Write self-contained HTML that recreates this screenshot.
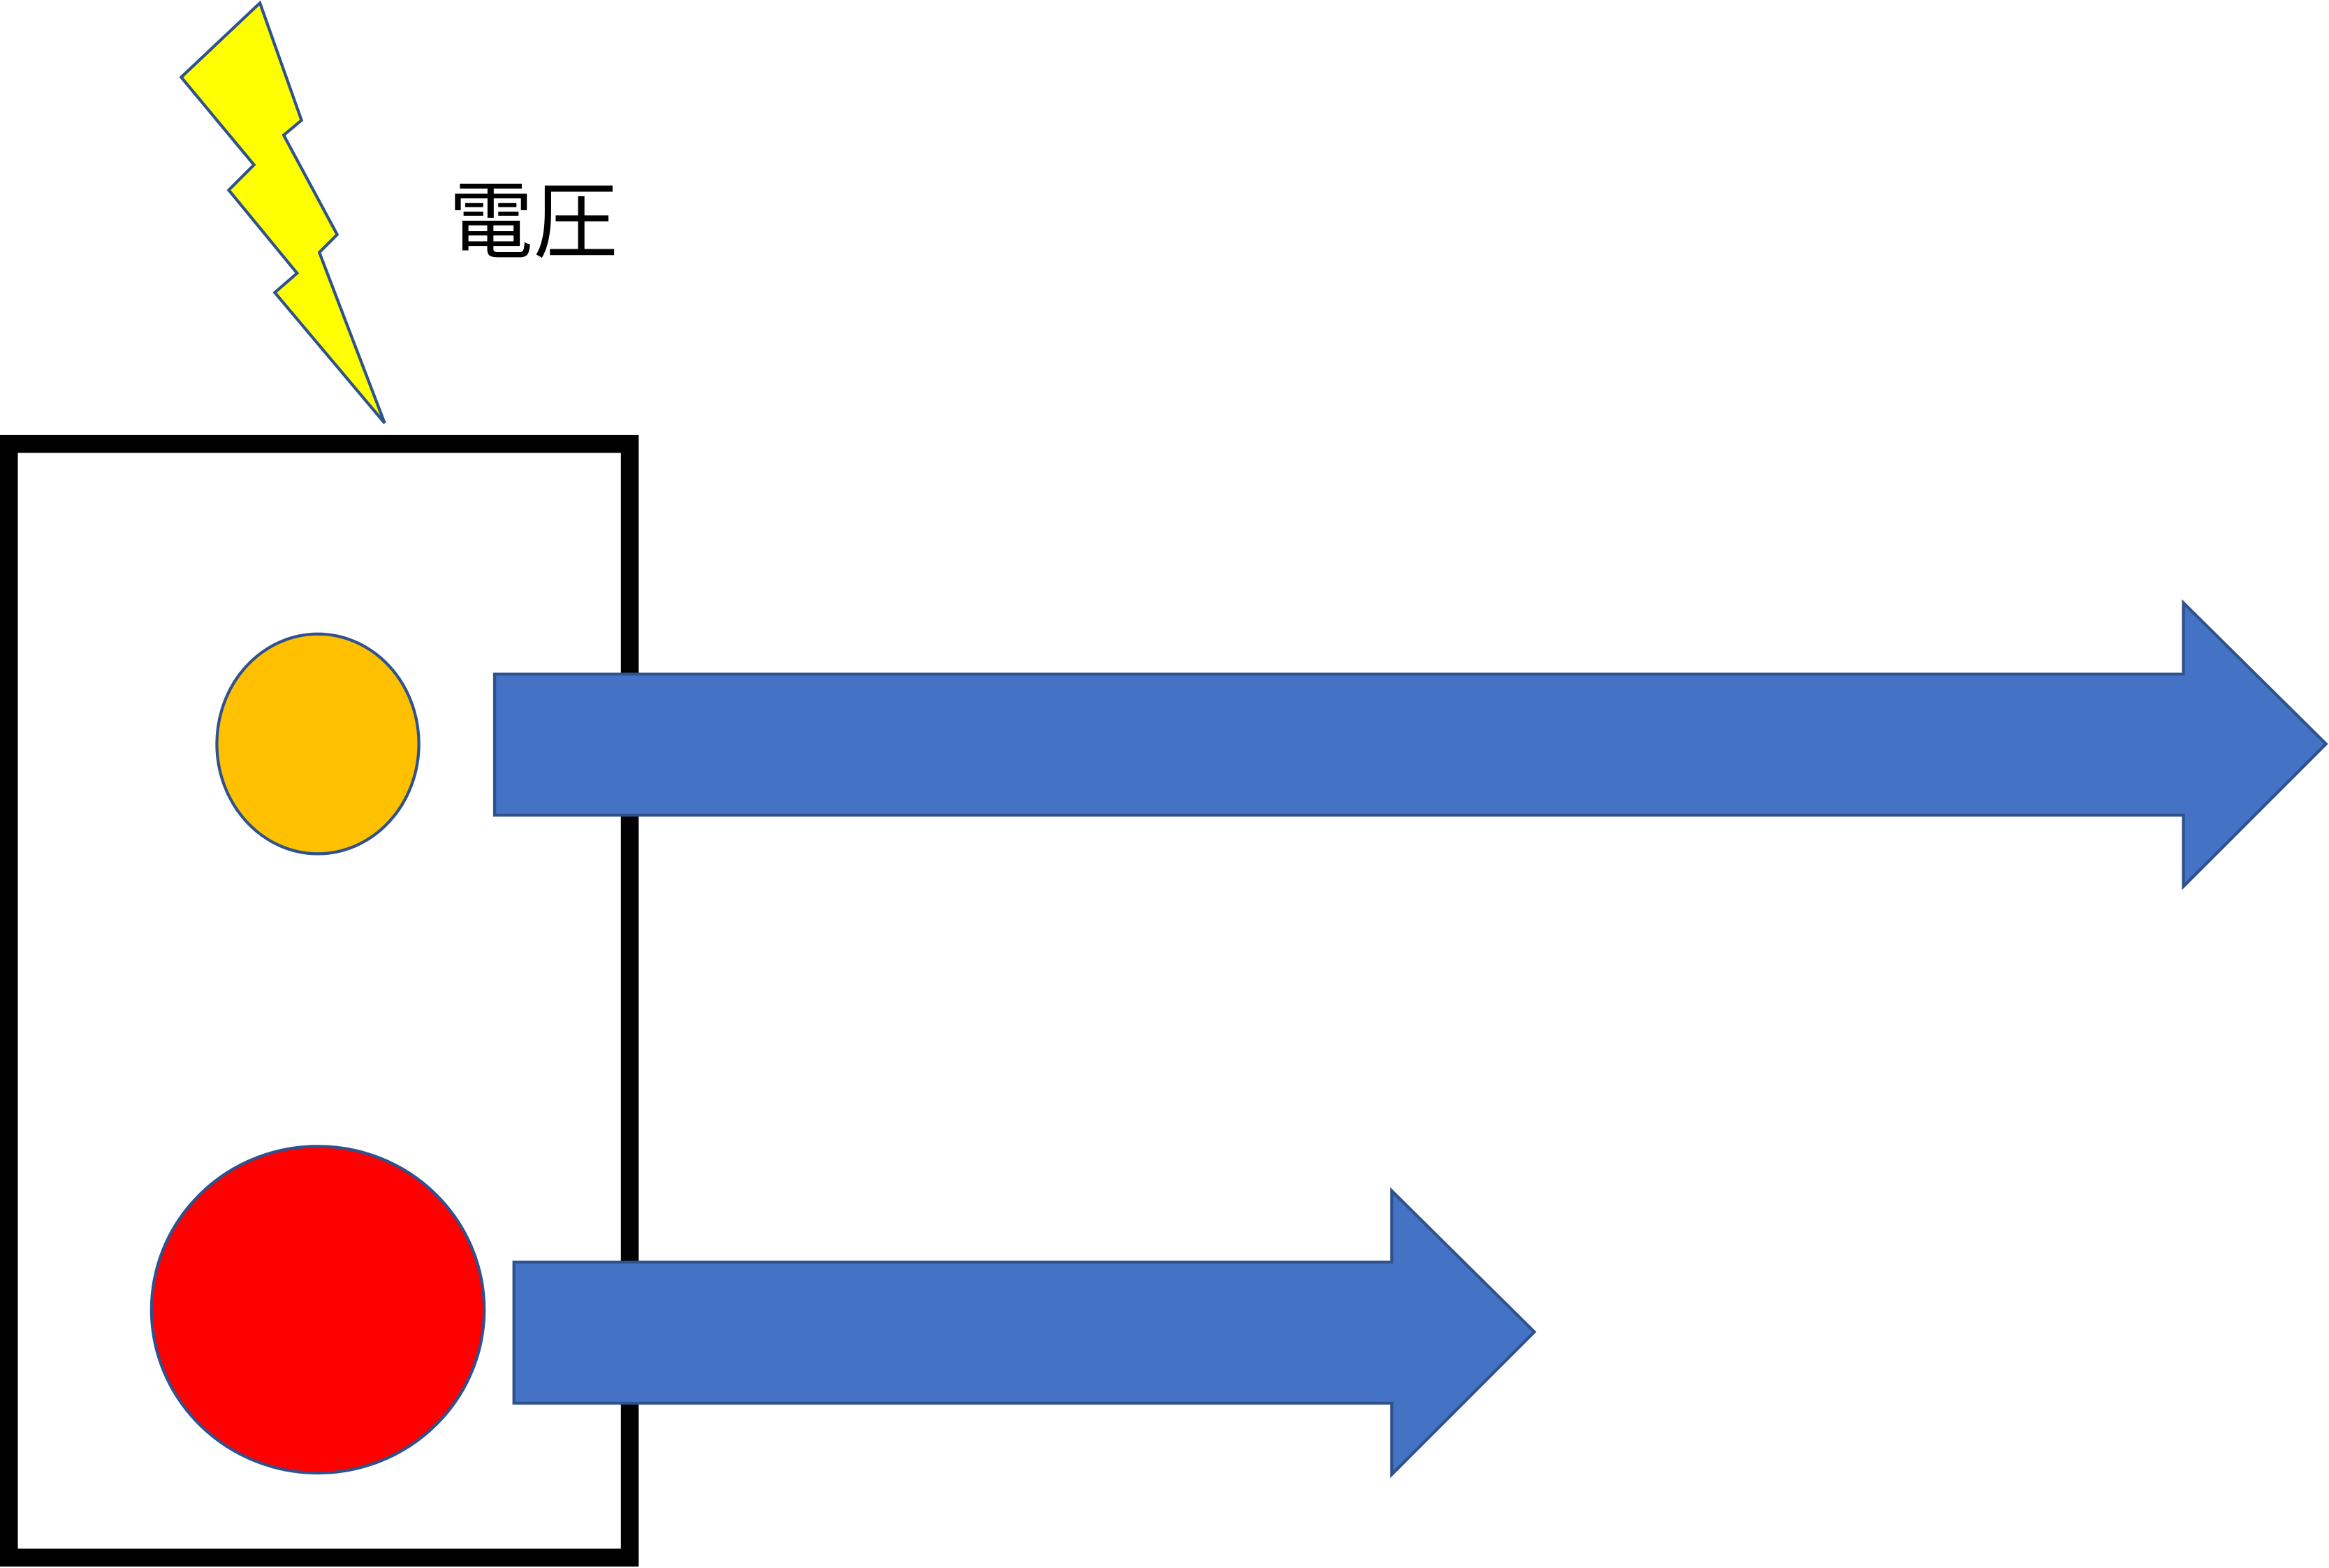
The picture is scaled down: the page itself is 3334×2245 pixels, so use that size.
<!DOCTYPE html>
<html><head><meta charset="utf-8"><style>html,body{margin:0;padding:0;background:#fff}svg{display:block}</style></head>
<body>
<svg width="3334" height="2245" viewBox="0 0 1568 1056" preserveAspectRatio="none" xmlns="http://www.w3.org/2000/svg">
<rect x="6" y="299" width="418" height="750" fill="none" stroke="#000" stroke-width="12"/>
<polygon points="175,2 203,81 191,91 227,158 215,170 259,285 185,197 200,184 154,128 171,111 122,52" fill="#FFFF00" stroke="#2F528F" stroke-width="2"/>
<text x="359" y="169" text-anchor="middle" font-family="'Liberation Sans','Noto Sans CJK JP',sans-serif" font-size="57" font-weight="normal" fill="#000">電圧</text>
<ellipse cx="214" cy="501" rx="68" ry="74" fill="#FFC000" stroke="#2F528F" stroke-width="2"/>
<ellipse cx="214" cy="882" rx="112" ry="110" fill="#FF0000" stroke="#2F528F" stroke-width="2"/>
<polygon points="333,454 1470,454 1470,406 1566,501 1470,597 1470,549 333,549" fill="#4472C4" stroke="#2F528F" stroke-width="2"/>
<polygon points="346,850 937,850 937,802 1033,897 937,993 937,945 346,945" fill="#4472C4" stroke="#2F528F" stroke-width="2"/>
</svg>
</body></html>
